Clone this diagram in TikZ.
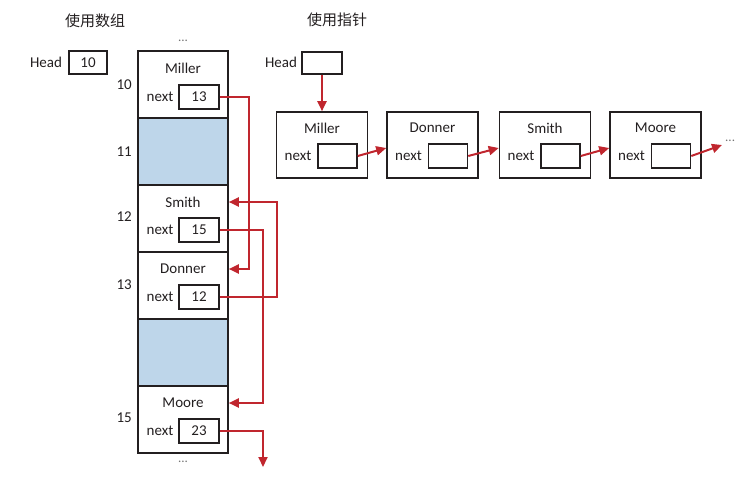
\documentclass[tikz,border=0pt]{standalone}
\usepackage{fontspec}
\setmainfont{Carlito}
\newfontfamily\cjk{Noto Sans CJK SC}
\usetikzlibrary{arrows.meta}
\definecolor{arrred}{RGB}{192,38,46}
\definecolor{cellblue}{RGB}{190,214,234}
\definecolor{txt}{RGB}{35,31,32}
\begin{document}
\begin{tikzpicture}[x=1pt,y=-1pt,
  every node/.style={text=txt,font=\fontsize{15}{17}\selectfont,inner sep=0pt},
  cell/.style={draw=txt,line width=1.6pt,minimum width=90pt,minimum height=67pt},
  emptycell/.style={cell,fill=cellblue},
  ptrbox/.style={draw=txt,line width=1.5pt,minimum width=40pt,minimum height=24pt},
  lnode/.style={draw=txt,line width=1.6pt,minimum width=91pt,minimum height=66pt},
  link/.style={draw=arrred,line width=2pt,-{Triangle[length=10pt,width=9pt]}},
  dots/.style={font=\fontsize{13}{14}\selectfont,text=black!55}]
\useasboundingbox (0,0) rectangle (755,479);
% titles
\node[font=\cjk\fontsize{15}{17}\selectfont] (t1) at (95,21) {使用数组};
\node[font=\cjk\fontsize{15}{17}\selectfont] (t2) at (337,20) {使用指针};
% ---------- array ----------
\node (hl) at (46,62) {Head};
\node[ptrbox,minimum width=38pt,minimum height=23pt] (hb) at (88,62.5) {10};
\node[dots] (dt) at (183,41) {...};
\node[cell] (c10) at (183,84.5) {};
\node[emptycell] (c11) at (183,151.5) {};
\node[cell] (c12) at (183,218.5) {};
\node[cell] (c13) at (183,285.5) {};
\node[emptycell] (c14) at (183,352.5) {};
\node[cell] (c15) at (183,419.5) {};
\node[dots] (db) at (183,462) {...};
% row labels
\node[anchor=east] (r10) at (132,85) {10};
\node[anchor=east] (r11) at (132,152) {11};
\node[anchor=east] (r12) at (132,217) {12};
\node[anchor=east] (r13) at (132,285) {13};
\node[anchor=east] (r15) at (132,418) {15};
% cell contents
\node (m10) at (183,68) {Miller};
\node (x10) at (160,97) {next};
\node[ptrbox] (n10) at (199,97) {13};
\node (m12) at (183,202) {Smith};
\node (x12) at (160,230) {next};
\node[ptrbox] (n12) at (199,230) {15};
\node (m13) at (183,269) {Donner};
\node (x13) at (160,297) {next};
\node[ptrbox] (n13) at (199,297) {12};
\node (m15) at (183,403) {Moore};
\node (x15) at (160,431) {next};
\node[ptrbox] (n15) at (199,431) {23};
\coordinate (end15) at (263,467);
% array links
\draw[link] (n10.east) -- (249,97) |- (c13.east |- m13);
\draw[link] (n12.east) -- (263,230) |- (c15.east |- m15);
\draw[link] (n13.east) -- (277,297) |- (c12.east |- m12);
\draw[link] (n15.east) -| (end15);
% ---------- pointers ----------
\node (hr) at (281,62) {Head};
\node[ptrbox,minimum width=40pt,minimum height=22pt] (hp) at (322,63) {};
\foreach \n/\name/\cx in {1/Miller/322,2/Donner/432.5,3/Smith/545,4/Moore/655.5}{
  \node[lnode] (L\n) at (\cx,145) {};
  \node (N\n) at (\cx,128) {\name};
  \node (X\n) at (\cx-24,156) {next};
  \node[ptrbox,minimum width=39pt] (P\n) at (\cx+15.5,156) {};
}
\coordinate (lend) at (722,145);
\node[dots,anchor=west] (ldots) at (725,141) {...};
\draw[link] (hp.south) -- (L1.north);
\draw[link] (P1.east) -- ([yshift=-3pt]L2.west);
\draw[link] (P2.east) -- ([yshift=-3pt]L3.west);
\draw[link] (P3.east) -- ([yshift=-3pt]L4.west);
\draw[link] (P4.east) -- (lend);
\end{tikzpicture}
\end{document}
